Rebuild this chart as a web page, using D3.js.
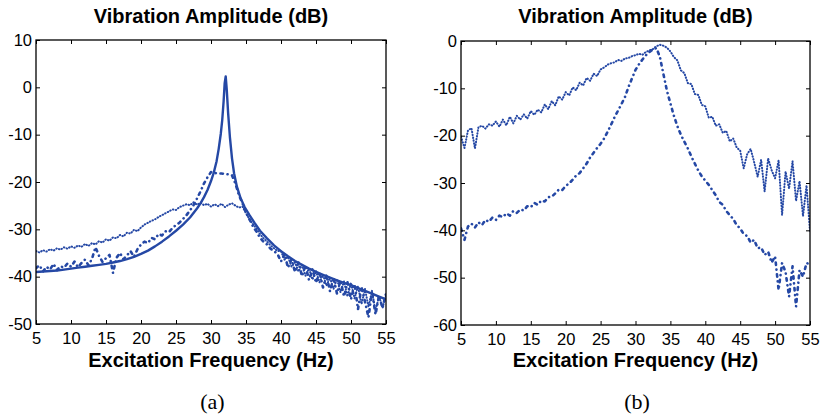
<!DOCTYPE html>
<html>
<head>
<meta charset="utf-8">
<script src="https://cdn.jsdelivr.net/npm/d3@7"></script>
<style>
  body { margin: 0; background: #fff; }
  text { font-family: "Liberation Sans", Arial, Helvetica, sans-serif; fill: #000; }
</style>
</head>
<body>
<svg id="chart" width="825" height="420"></svg>
<script>
// frequence d'excitation (Hz), grille commune aux courbes mesurees
const freq = [
  5, 5.5, 6, 6.5, 7, 7.5, 8, 8.5, 9, 9.5,
  10, 10.5, 11, 11.5, 12, 12.5, 13, 13.5, 14, 14.5,
  15, 15.5, 16, 16.5, 17, 17.5, 18, 18.5, 19, 19.5,
  20, 20.5, 21, 21.5, 22, 22.5, 23, 23.5, 24, 24.5,
  25, 25.5, 26, 26.5, 27, 27.5, 28, 28.5, 29, 29.5,
  30, 30.5, 31, 31.5, 32, 32.5, 33, 33.5, 34, 34.5,
  35, 35.5, 36, 36.5, 37, 37.5, 38, 38.5, 39, 39.5,
  40, 40.5, 41, 41.5, 42, 42.5, 43, 43.5, 44, 44.5,
  45, 45.5, 46, 46.5, 47, 47.5, 48, 48.5, 49, 49.5,
  50, 50.5, 51, 51.5, 52, 52.5, 53, 53.5, 54, 54.5,
  55
];

// (a) courbe pointillee haute
const dotA = [
  -34.6, -34.9, -34.4, -34.7, -34.2, -34.5, -34.0, -34.3, -33.8, -34.1,
  -33.6, -33.9, -33.4, -33.7, -33.1, -33.5, -32.9, -33.2, -32.5, -32.8,
  -32.1, -32.4, -31.7, -31.9, -31.2, -31.5, -30.7, -30.9, -30.1, -30.4,
  -29.6, -29.0, -28.6, -28.2, -27.9, -27.4, -27.0, -26.6, -26.2, -25.8,
  -25.9, -25.3, -25.0, -24.7, -24.9, -24.3, -24.8, -24.4, -24.9, -24.6,
  -25.2, -24.7, -25.1, -24.6, -25.3, -24.8, -24.5, -25.0, -25.4, -25.2,
  -26.6, -27.9, -28.9, -29.9, -31.0, -31.9, -32.6, -33.4, -34.0, -34.6,
  -34.6, -36.4, -35.8, -37.9, -37.0, -38.9, -37.5, -39.8, -38.3, -40.6,
  -38.8, -41.2, -39.6, -41.9, -40.2, -42.6, -40.5, -43.3, -41.0, -44.2,
  -41.3, -44.6, -42.0, -45.8, -42.6, -46.4, -43.0, -47.3, -44.1, -46.6,
  -44.0
];

// (a) courbe mixte avec plateau a -18 dB
const dashA = [
  -38.2, -37.6, -38.9, -37.9, -38.5, -37.3, -38.6, -37.8, -38.1, -37.2,
  -37.9, -36.8, -38.0, -37.1, -36.4, -37.6, -36.2, -33.8, -35.6, -36.9,
  -36.1, -35.4, -39.2, -36.0, -35.0, -36.3, -35.5, -34.6, -35.8, -34.2,
  -33.2, -32.6, -32.9, -31.8, -32.1, -31.0, -31.3, -30.4, -30.6, -29.7,
  -29.1, -28.6, -27.8, -27.0, -26.0, -24.9, -23.5, -22.0, -20.3, -19.0,
  -17.9, -18.1, -18.2, -18.2, -18.3, -18.4, -18.6, -20.4, -22.8, -24.5,
  -26.5, -27.9, -29.4, -30.5, -31.8, -32.6, -33.2, -34.1, -34.6, -35.2,
  -36.8, -35.2, -38.1, -36.3, -39.0, -37.0, -39.9, -37.6, -40.7, -38.4,
  -41.3, -39.0, -42.3, -39.7, -43.1, -40.2, -43.6, -40.8, -44.2, -41.2,
  -44.8, -41.6, -46.9, -42.2, -45.3, -48.6, -43.1, -48.0, -44.0, -46.6,
  -43.6
];

// (a) courbe continue, resonance a 32 Hz (echantillonnage plus fin au pic)
const solidFreqA = [
  5, 6, 7, 8, 9, 10, 11, 12, 13, 14, 15, 16, 17, 18, 19, 20, 21, 22, 23, 24,
  25, 26, 27, 28, 28.5, 29, 29.5, 30, 30.4, 30.8, 31.1, 31.4, 31.6, 31.8, 31.95,
  32.1, 32.25, 32.45, 32.7, 33, 33.3, 33.7, 34.2, 34.8, 35.5, 36.2, 37, 38, 39,
  40, 41, 42, 43, 44, 45, 46, 47, 48, 49, 50, 51, 52, 53, 54, 55
];
const solidA = [
  -39.0, -38.9, -38.8, -38.7, -38.5, -38.3, -38.1, -37.9, -37.7, -37.5, -37.3, -37.0, -36.7, -36.3, -35.8, -35.2, -34.5, -33.6, -32.6, -31.5,
  -30.3, -29.0, -27.5, -25.6, -24.5, -23.2, -21.7, -19.8, -18.0, -15.6, -13.0, -9.8, -7.0, -3.0, 0.8,
  2.3, -0.5, -5.5, -10.5, -15.0, -18.2, -21.0, -23.3, -25.3, -27.0, -28.6, -30.3, -31.9, -33.4,
  -34.6, -35.7, -36.7, -37.5, -38.3, -39.0, -39.6, -40.2, -40.8, -41.3, -41.8, -42.4, -43.0, -43.6, -44.2, -44.8
];

// (b) courbe pointillee (large)
const dotB = [
  -20.2, -22.6, -18.9, -18.4, -22.7, -18.2, -17.9, -18.5, -17.6, -17.9,
  -17.0, -18.1, -16.6, -17.8, -16.0, -17.4, -15.8, -16.6, -15.5, -16.4,
  -14.8, -15.6, -14.5, -15.1, -13.4, -14.4, -12.7, -13.6, -11.7, -12.4,
  -10.8, -11.5, -9.8, -10.4, -8.8, -9.4, -7.8, -8.4, -6.9, -7.4,
  -6.0, -5.6, -5.0, -4.7, -4.5, -4.0, -4.2, -3.7, -3.6, -3.2,
  -3.0, -2.7, -2.9, -2.3, -2.0, -1.7, -1.1, -0.8, -1.0, -1.4,
  -2.2, -3.4, -4.1, -6.2, -6.8, -8.9, -9.1, -11.2, -11.4, -13.5,
  -13.8, -16.2, -16.0, -17.9, -17.6, -19.4, -19.0, -21.2, -20.6, -22.5,
  -23.2, -26.9, -23.9, -22.8, -25.6, -28.7, -25.1, -31.8, -24.8, -27.3,
  -29.0, -25.2, -36.8, -27.6, -31.2, -25.4, -33.8, -29.6, -37.0, -30.5,
  -40.2
];

// (b) courbe mixte (etroite)
const dashB = [
  -39.6, -42.0, -39.2, -38.6, -39.4, -38.3, -38.9, -37.8, -38.2, -37.3,
  -37.8, -36.9, -37.2, -36.4, -36.9, -35.9, -36.3, -35.6, -35.8, -34.9,
  -35.1, -34.2, -34.6, -33.7, -33.9, -33.0, -32.9, -32.2, -31.4, -31.5,
  -30.6, -30.1, -29.3, -28.4, -27.9, -26.9, -25.9, -24.6, -23.6, -22.6,
  -21.7, -20.6, -19.2, -17.7, -16.1, -14.7, -13.3, -11.8, -9.7, -7.9,
  -6.1, -4.9, -3.9, -3.0, -2.3, -1.8, -1.5, -3.4, -7.0, -10.5,
  -13.2, -15.8, -18.0, -19.8, -21.3, -22.7, -24.4, -25.9, -27.4, -28.6,
  -29.5, -30.4, -31.5, -32.6, -34.0, -34.6, -35.9, -36.8, -37.6, -38.9,
  -39.6, -40.8, -41.2, -42.6, -42.0, -43.8, -43.6, -45.2, -44.5, -46.8,
  -45.5, -52.6, -46.9, -48.8, -54.0, -47.6, -56.1, -48.4, -49.8, -46.9,
  -47.2
];

const xTicks = [5, 10, 15, 20, 25, 30, 35, 40, 45, 50, 55];
const yTicksA = [10, 0, -10, -20, -30, -40, -50];
const yTicksB = [0, -10, -20, -30, -40, -50, -60];

const blue = '#2548a5';
const svg = d3.select('#chart');

const panels = [
  {
    id: 'a', left: 36, right: 386, top: 40, bottom: 324,
    yDomain: [-50, 10], yTicks: yTicksA, label: '(a)',
    series: [
      { f: freq, v: dotA, type: 'dot' },
      { f: freq, v: dashA, type: 'dash' },
      { f: solidFreqA, v: solidA, type: 'solid' }
    ]
  },
  {
    id: 'b', left: 461, right: 810, top: 41, bottom: 325,
    yDomain: [-60, 0], yTicks: yTicksB, label: '(b)',
    series: [
      { f: freq, v: dotB, type: 'dot' },
      { f: freq, v: dashB, type: 'dash' }
    ]
  }
];

panels.forEach(p => {
  const x = d3.scaleLinear().domain([5, 55]).range([p.left, p.right]);
  const y = d3.scaleLinear().domain(p.yDomain).range([p.bottom, p.top]);
  const cx = (p.left + p.right) / 2;

  // zone de decoupe
  svg.append('clipPath').attr('id', 'clip-' + p.id)
    .append('rect')
    .attr('x', p.left).attr('y', p.top)
    .attr('width', p.right - p.left).attr('height', p.bottom - p.top);

  const g = svg.append('g').attr('clip-path', 'url(#clip-' + p.id + ')');

  // courbes
  p.series.forEach(s => {
    const pts = s.f.map((f, i) => [f, s.v[i]]);
    const line = d3.line().x(d => x(d[0])).y(d => y(d[1]));
    const path = g.append('path')
      .datum(pts)
      .attr('d', line)
      .attr('fill', 'none')
      .attr('stroke', blue)
      .attr('stroke-linejoin', 'round');
    if (s.type === 'solid') {
      path.attr('stroke-width', 2.4);
    } else if (s.type === 'dot') {
      path.attr('stroke-width', 2)
        .attr('stroke-linecap', 'round')
        .attr('stroke-dasharray', '0.5,2.4');
    } else {
      path.attr('stroke-width', 2.6)
        .attr('stroke-linecap', 'round')
        .attr('stroke-dasharray', '2.5,4.6,0.1,4.6');
    }
  });

  // axes (graduations vers l'interieur, comme MATLAB)
  const fmt = d => String(d);
  const bottomAxis = svg.append('g')
    .attr('transform', `translate(0,${p.bottom})`)
    .call(d3.axisBottom(x).tickValues(xTicks).tickFormat(fmt).tickSizeInner(-4).tickSizeOuter(0).tickPadding(8.5));
  const leftAxis = svg.append('g')
    .attr('transform', `translate(${p.left},0)`)
    .call(d3.axisLeft(y).tickValues(p.yTicks).tickFormat(fmt).tickSizeInner(-4).tickSizeOuter(0).tickPadding(4));
  const topAxis = svg.append('g')
    .attr('transform', `translate(0,${p.top})`)
    .call(d3.axisTop(x).tickValues(xTicks).tickSizeInner(-4).tickSizeOuter(0).tickFormat(''));
  const rightAxis = svg.append('g')
    .attr('transform', `translate(${p.right},0)`)
    .call(d3.axisRight(y).tickValues(p.yTicks).tickSizeInner(-4).tickSizeOuter(0).tickFormat(''));

  [bottomAxis, leftAxis, topAxis, rightAxis].forEach(a => {
    a.select('.domain').remove();
    a.selectAll('.tick line').attr('stroke', '#000').attr('stroke-width', 1);
    a.selectAll('text')
      .attr('font-family', '"Liberation Sans", Arial, sans-serif')
      .attr('font-size', 16.5)
      .attr('fill', '#000');
  });

  // cadre
  svg.append('rect')
    .attr('x', p.left).attr('y', p.top)
    .attr('width', p.right - p.left).attr('height', p.bottom - p.top)
    .attr('fill', 'none').attr('stroke', '#000').attr('stroke-width', 1.3);

  // titre
  svg.append('text')
    .attr('x', cx).attr('y', 22.5)
    .attr('text-anchor', 'middle')
    .attr('font-size', 20)
    .attr('font-weight', 'bold')
    .text('Vibration Amplitude (dB)');

  // titre axe x
  svg.append('text')
    .attr('x', cx).attr('y', 367)
    .attr('text-anchor', 'middle')
    .attr('font-size', 20)
    .attr('font-weight', 'bold')
    .text('Excitation Frequency (Hz)');

  // legende (a) / (b)
  svg.append('text')
    .attr('x', cx + 1.5).attr('y', 409)
    .attr('text-anchor', 'middle')
    .style('font-family', '"Liberation Serif", "Times New Roman", serif')
    .attr('font-size', 22)
    .text(p.label);
});
</script>
</body>
</html>
